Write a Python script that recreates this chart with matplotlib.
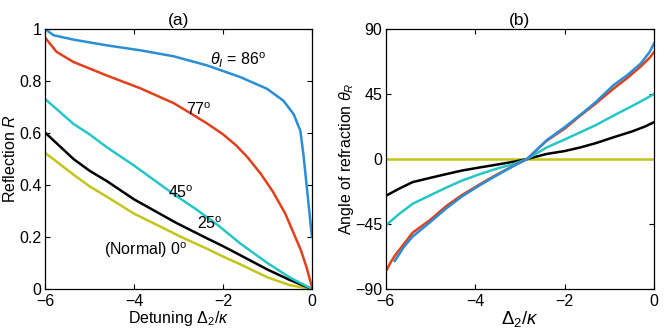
"""
Reflection and refraction angle vs detuning, two panels
"""

import matplotlib
matplotlib.use("Agg")
import matplotlib.pyplot as plt

plt.rcParams['font.family'] = ['Liberation Sans', 'DejaVu Sans']
plt.rcParams['font.size'] = 11.5
plt.rcParams['mathtext.fontset'] = 'custom'
plt.rcParams['mathtext.rm'] = 'Liberation Sans'
plt.rcParams['mathtext.it'] = 'Liberation Sans:italic'
plt.rcParams['mathtext.bf'] = 'Liberation Sans:bold'

# panel (a): reflection R vs detuning, one curve per incidence angle
x_a86 = [-6, -5.81, -5.36, -4.61, -3.86, -3.11, -2.36, -1.61, -1.01, -0.64,
         -0.41, -0.26, -0.19, 0]
r_a86 = [1.0, 0.976, 0.959, 0.937, 0.918, 0.895, 0.86, 0.815, 0.77, 0.724,
         0.672, 0.608, 0.515, 0.2]
x_a77 = [-6, -5.74, -5.36, -4.61, -3.86, -3.11, -2.74, -2.36, -2, -1.7,
         -1.45, -1.15, -0.88, -0.6, -0.42, -0.25, -0.12, 0]
r_a77 = [0.967, 0.912, 0.873, 0.821, 0.772, 0.715, 0.677, 0.637, 0.595, 0.552,
         0.507, 0.443, 0.375, 0.29, 0.218, 0.15, 0.083, 0.007]
x_a45 = [-6, -5.36, -5, -4.61, -4, -3.11, -2.63, -2.11, -1.61, -1, -0.5, 0]
r_a45 = [0.731, 0.635, 0.595, 0.545, 0.475, 0.365, 0.31, 0.245, 0.175, 0.1,
         0.045, 0]
x_alow = [-6, -5.36, -5, -4.61, -4, -3.11, -3, -2.36, -2, -1.61, -1, -0.5, 0]
r_a25 = [0.602, 0.50, 0.455, 0.415, 0.345, 0.26, 0.25, 0.195, 0.165, 0.13,
         0.075, 0.035, 0]
r_a0 = [0.524, 0.44, 0.395, 0.355, 0.29, 0.215, 0.205, 0.155, 0.125, 0.095,
        0.045, 0.015, 0]

# panel (b): refraction angle vs detuning
x_b77 = [-6, -5.9, -5.8, -5.6, -5.4, -5, -4.64, -4.3, -3.89, -3.5, -3.14,
         -2.84, -2.4, -2, -1.65, -1.3, -0.91, -0.6, -0.3, -0.1, 0]
t_b77 = [-78, -72, -67, -59, -51, -42, -32.4, -25, -17.4, -10.5, -4.6,
         0, 12.7, 21, 30, 38.5, 48.6, 56, 64, 70, 74]
x_b86 = [-5.8, -5.6, -5.4, -5, -4.64, -4.3, -3.89, -3.5, -3.14, -2.84, -2.4,
         -2, -1.65, -1.3, -0.91, -0.6, -0.3, -0.1, 0]
t_b86 = [-70.6, -61, -53.7, -43.5, -34, -26, -18, -11, -4.8, 0, 13,
         22, 30.5, 39.5, 51, 58, 66, 74, 80]
x_blow = [-6, -5.7, -5.4, -5, -4.64, -4.3, -3.89, -3.5, -3.14, -2.84, -2.4,
          -2, -1.65, -1.3, -0.91, -0.5, -0.2, 0]
t_b45 = [-46, -38, -31, -25, -19.7, -15, -10.4, -6.5, -3.5, 0, 8,
         13.5, 18.5, 23.5, 30, 36.5, 41.5, 45]
t_b25 = [-25.5, -20.5, -16, -13, -10.4, -8, -5.8, -3.8, -1.9, 0, 3.5,
         5.5, 8, 11, 15, 19, 22.5, 25.5]
x_b0 = [-6, 0]
t_b0 = [0, 0]

c_blue = '#2a8ed6'
c_red = '#e2401b'
c_cyan = '#26c6c6'
c_black = '#000000'
c_yellow = '#c4c41a'

x_ticks = [-6, -4, -2, 0]

fig = plt.figure(figsize=(6.64, 3.33), dpi=100)
ax_a = fig.add_axes([0.0678, 0.132, 0.402, 0.781])
ax_b = fig.add_axes([0.581, 0.132, 0.404, 0.781])

lw = 1.8
ax_a.plot(x_alow, r_a0, color=c_yellow, lw=lw)
ax_a.plot(x_alow, r_a25, color=c_black, lw=lw)
ax_a.plot(x_a45, r_a45, color=c_cyan, lw=lw)
ax_a.plot(x_a77, r_a77, color=c_red, lw=lw)
ax_a.plot(x_a86, r_a86, color=c_blue, lw=lw)

ax_a.text(-1.67, 0.88, r'$\theta_I$ = 86$^{\rm o}$', ha='center', va='center')
ax_a.text(-2.55, 0.69, r'77$^{\rm o}$', ha='center', va='center')
ax_a.text(-2.95, 0.37, r'45$^{\rm o}$', ha='center', va='center')
ax_a.text(-2.3, 0.25, r'25$^{\rm o}$', ha='center', va='center')
ax_a.text(-3.73, 0.148, r'(Normal) 0$^{\rm o}$', ha='center', va='center')

ax_a.set_xlim(-6, 0)
ax_a.set_ylim(0, 1)
ax_a.set_xticks(x_ticks)
ax_a.set_yticks([0, 0.2, 0.4, 0.6, 0.8, 1])
ax_a.set_yticklabels(['0', '0.2', '0.4', '0.6', '0.8', '1'])
ax_a.set_xlabel(r'Detuning $\Delta_2/\kappa$', labelpad=0)
ax_a.set_ylabel(r'Reflection $R$', labelpad=1)
ax_a.set_title('(a)', fontsize=12.5, pad=3)

ax_b.plot(x_b0, t_b0, color=c_yellow, lw=lw)
ax_b.plot(x_blow, t_b25, color=c_black, lw=lw)
ax_b.plot(x_blow, t_b45, color=c_cyan, lw=lw)
ax_b.plot(x_b77, t_b77, color=c_red, lw=lw)
ax_b.plot(x_b86, t_b86, color=c_blue, lw=lw)

ax_b.set_xlim(-6, 0)
ax_b.set_ylim(-90, 90)
ax_b.set_xticks(x_ticks)
ax_b.set_yticks([-90, -45, 0, 45, 90])
ax_b.set_xlabel(r'$\Delta_2/\kappa$', fontsize=13.5, labelpad=0)
ax_b.set_ylabel(r'Angle of refraction $\theta_R$', labelpad=-1)
ax_b.set_title('(b)', fontsize=12.5, pad=3)

for ax in (ax_a, ax_b):
    ax.tick_params(direction='in', top=True, right=True, length=3.5,
                   width=0.8, pad=2.5)
    ax.tick_params(axis='x', pad=3.5)
    for sp in ax.spines.values():
        sp.set_linewidth(0.9)

fig.savefig('out.png', dpi=100)
